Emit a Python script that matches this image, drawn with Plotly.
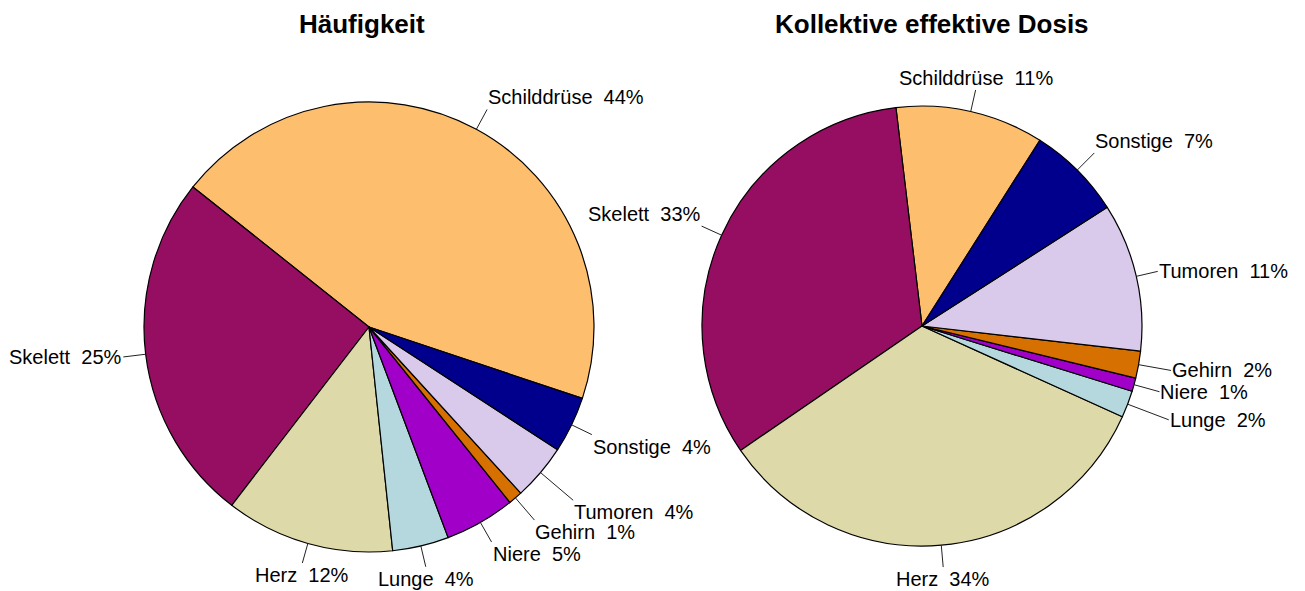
import math
import plotly.graph_objects as go

# ---- data -------------------------------------------------------------
organs = ["Schilddrüse", "Skelett", "Herz", "Lunge", "Niere", "Gehirn", "Tumoren", "Sonstige"]
haeufigkeit = [44, 25, 12, 4, 5, 1, 4, 4]          # % of examinations
kollektivdosis = [11, 33, 34, 2, 1, 2, 11, 7]      # % of collective effective dose
titles = ["Häufigkeit", "Kollektive effektive Dosis"]

# ---- styling / layout -------------------------------------------------
W, H = 1305, 591
colors = ["#FDBF6E", "#960E62", "#DED9A8", "#B5D8DE", "#A000C8", "#D67000", "#D9CAEC", "#00008C"]
FONT = "Liberation Sans, Arial, sans-serif"

# pie geometry in pixels: centre x, centre y, radius, start angle (deg, ccw from 3 o'clock)
# `lead` = length of each label's leader line as a multiple of the radius
pies = [
    dict(cx=369, cy=327, r=225, start=-18.5,
         lead=[1.10, 1.10, 1.09, 1.095, 1.10, 1.13, 1.19, 1.10]),
    dict(cx=922, cy=326, r=220, start=57.6,
         lead=[1.10, 1.10, 1.10, 1.20, 1.12, 1.15, 1.10, 1.11]),
]
title_pos = [(362, 24), (932, 24)]

def px(x):
    return x / W

def py(y):
    return 1 - y / H

fig = go.Figure()
shapes = []
annotations = []

for values, geo in zip([haeufigkeit, kollektivdosis], pies):
    cx, cy, r = geo["cx"], geo["cy"], geo["r"]
    total = sum(values)
    first = values[0] / total * 360
    # plotly: with counterclockwise direction the first slice lies clockwise of `rotation`
    fig.add_trace(go.Pie(
        labels=organs,
        values=values,
        sort=False,
        direction="counterclockwise",
        rotation=90 - geo["start"] - first,
        marker=dict(colors=colors, line=dict(color="black", width=1.2)),
        textinfo="none",
        hoverinfo="label+percent",
        showlegend=False,
        domain=dict(x=[px(cx - r), px(cx + r)], y=[py(cy + r), py(cy - r)]),
    ))

    acc = 0.0
    for name, v, lf in zip(organs, values, geo["lead"]):
        mid = math.radians(geo["start"] + (acc + v / 2) / total * 360)
        acc += v
        c, s = math.cos(mid), math.sin(mid)
        x0, y0 = cx + r * c, cy - r * s
        x1, y1 = cx + lf * r * c, cy - lf * r * s
        shapes.append(dict(type="line", xref="paper", yref="paper",
                           x0=px(x0), y0=py(y0), x1=px(x1), y1=py(y1),
                           line=dict(color="#222222", width=1)))
        xa = "left" if c > 0.38 else ("right" if c < -0.38 else "center")
        ya = "bottom" if s > 0.38 else ("top" if s < -0.38 else "middle")
        annotations.append(dict(
            xref="paper", yref="paper", x=px(x1), y=py(y1),
            xanchor=xa, yanchor=ya, showarrow=False,
            text=f"{name}\u00a0\u00a0{v}%",
            font=dict(family=FONT, size=20, color="black"),
            borderpad=0,
        ))

for t, (tx, ty) in zip(titles, title_pos):
    annotations.append(dict(
        xref="paper", yref="paper", x=px(tx), y=py(ty),
        xanchor="center", yanchor="middle", showarrow=False,
        text=f"<b>{t}</b>",
        font=dict(family=FONT, size=26, color="black"),
    ))

fig.update_layout(
    width=W, height=H,
    margin=dict(l=0, r=0, t=0, b=0),
    paper_bgcolor="white",
    plot_bgcolor="white",
    shapes=shapes,
    annotations=annotations,
)

fig.write_html("out.html")
